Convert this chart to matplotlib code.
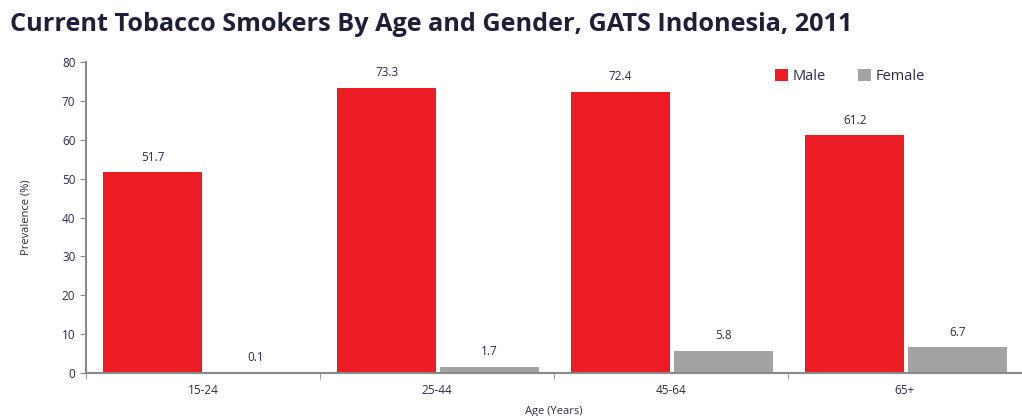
import numpy as np
import matplotlib.pyplot as plt

ages = ["15-24", "25-44", "45-64", "65+"]
male = [51.7, 73.3, 72.4, 61.2]
female = [0.1, 1.7, 5.8, 6.7]

red = "#ED1C24"
grey = "#A3A3A5"
txt = "#2E2A4A"

plt.rcParams['font.family'] = ['Open Sans', 'DejaVu Sans']

fig = plt.figure(figsize=(10.22, 4.16), dpi=100)
ax = fig.add_axes([0.084, 0.103, 0.916, 0.748])

x = np.arange(len(ages))
w = 0.425
b1 = ax.bar(x - 0.215, male, w, color=red, label="Male")
b2 = ax.bar(x + 0.225, female, w, color=grey, label="Female")

for bars in (b1, b2):
    for r in bars:
        ax.text(r.get_x() + r.get_width() / 2, r.get_height() + 2.2,
                f"{r.get_height():.1f}", ha="center", va="bottom",
                fontsize=8.5, color=txt)

ax.set_xlim(-0.5, 3.48)
ax.set_ylim(0, 80)
ax.set_yticks(range(0, 81, 10))
ax.set_xticks(x)
ax.set_xticklabels(ages)
ax.set_xticks(np.arange(-0.5, 3.6, 1), minor=True)
ax.tick_params(axis="x", which="major", length=0, pad=8, labelsize=8.5, labelcolor=txt)
ax.tick_params(axis="x", which="minor", length=4, color="#888888")
ax.tick_params(axis="y", length=4, color="#888888", labelsize=8.5, labelcolor=txt)

for s in ("top", "right"):
    ax.spines[s].set_visible(False)
for s in ("left", "bottom"):
    ax.spines[s].set_color("#888888")
    ax.spines[s].set_linewidth(1.5)

ax.set_ylabel("Prevalence (%)", fontsize=8, color=txt, labelpad=22)
ax.set_xlabel("Age (Years)", fontsize=8, color=txt, labelpad=6)

ax.legend(loc="upper right", bbox_to_anchor=(0.91, 1.02), ncol=2, frameon=False,
          handlelength=0.9, handleheight=0.9, columnspacing=2.2, handletextpad=0.3,
          fontsize=10.5, labelcolor=txt)

fig.text(0.01, 0.94, "Current Tobacco Smokers By Age and Gender, GATS Indonesia, 2011",
         fontsize=18.2, fontweight="bold", color="#1f1f3a", va="center")

fig.savefig("out.png", dpi=100)
